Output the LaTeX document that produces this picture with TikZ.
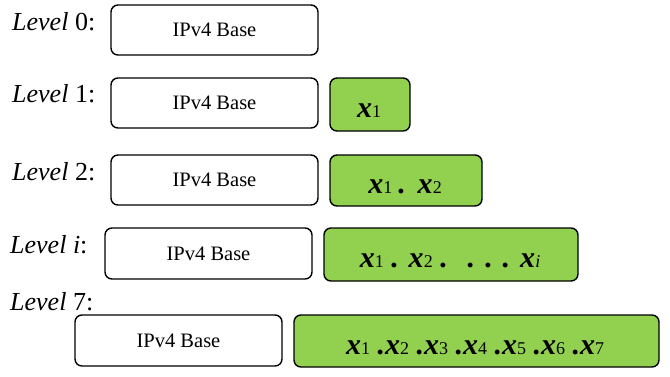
\documentclass[tikz,border=0pt]{standalone}
\usepackage{fontspec}
\setmainfont{Liberation Serif}
\definecolor{fieldgreen}{HTML}{92D050}
\begin{document}
\begin{tikzpicture}[x=1pt,y=-1pt,
  basebox/.style={draw=black, line width=1.4pt, rounded corners=7pt, fill=white,
    font=\fontsize{20.5}{22}\selectfont, minimum width=207pt, inner sep=0pt},
  greenbox/.style={draw=black, line width=1.4pt, rounded corners=7pt, fill=fieldgreen,
    inner sep=0pt},
  gtext/.style={font=\fontsize{30}{32}\selectfont\bfseries\itshape, inner sep=0pt},
  lvl/.style={anchor=base west, font=\fontsize{26}{28}\selectfont, inner sep=0pt}]
\useasboundingbox (0,0) rectangle (670,376);
\newcommand{\xs}[1]{\textit{x}{\fontsize{18}{20}\selectfont\mdseries\upshape#1}}
% Level labels
\node[lvl] (l0) at (12,30) {\textit{Level} 0:};
\node[lvl] (l1) at (12,102) {\textit{Level} 1:};
\node[lvl] (l2) at (12,180) {\textit{Level} 2:};
\node[lvl] (li) at (10,253) {\textit{Level i}:};
\node[lvl] (l7) at (10,310) {\textit{Level} 7:};
% base boxes
\node[basebox, minimum height=50pt] (b0) at (214.5,30) {IPv4 Base};
\node[basebox, minimum height=50pt] (b1) at (214.5,103) {IPv4 Base};
\node[basebox, minimum height=50pt] (b2) at (214.5,180) {IPv4 Base};
\node[basebox, minimum height=51pt] (bi) at (208.5,253.5) {IPv4 Base};
\node[basebox, minimum height=51pt] (b7) at (178.5,340.5) {IPv4 Base};
% green boxes
\node[greenbox, minimum width=80pt, minimum height=53pt] (g1) at (370,104.5) {};
\node[greenbox, minimum width=152pt, minimum height=51pt] (g2) at (406,180.5) {};
\node[greenbox, minimum width=254pt, minimum height=53pt] (gi) at (451,254.5) {};
\node[greenbox, minimum width=365pt, minimum height=52pt] (g7) at (476.5,341) {};
% green texts
\node[gtext, anchor=base] (t1) at (369,117) {\xs{1}};
\node[gtext, anchor=base] (t2) at (405,193) {\xs{1}\hspace{6pt}.\hspace{12pt}\xs{2}};
\node[gtext, anchor=base] (ti) at (450,267) {\xs{1} . \xs{2} .\hspace{20pt}. . . \xs{\itshape i}};
\node[gtext, anchor=base] (t7) at (475,354) {\xs{1} .\xs{2} .\xs{3} .\xs{4} .\xs{5} .\xs{6} .\xs{7}};
\end{tikzpicture}
\end{document}
